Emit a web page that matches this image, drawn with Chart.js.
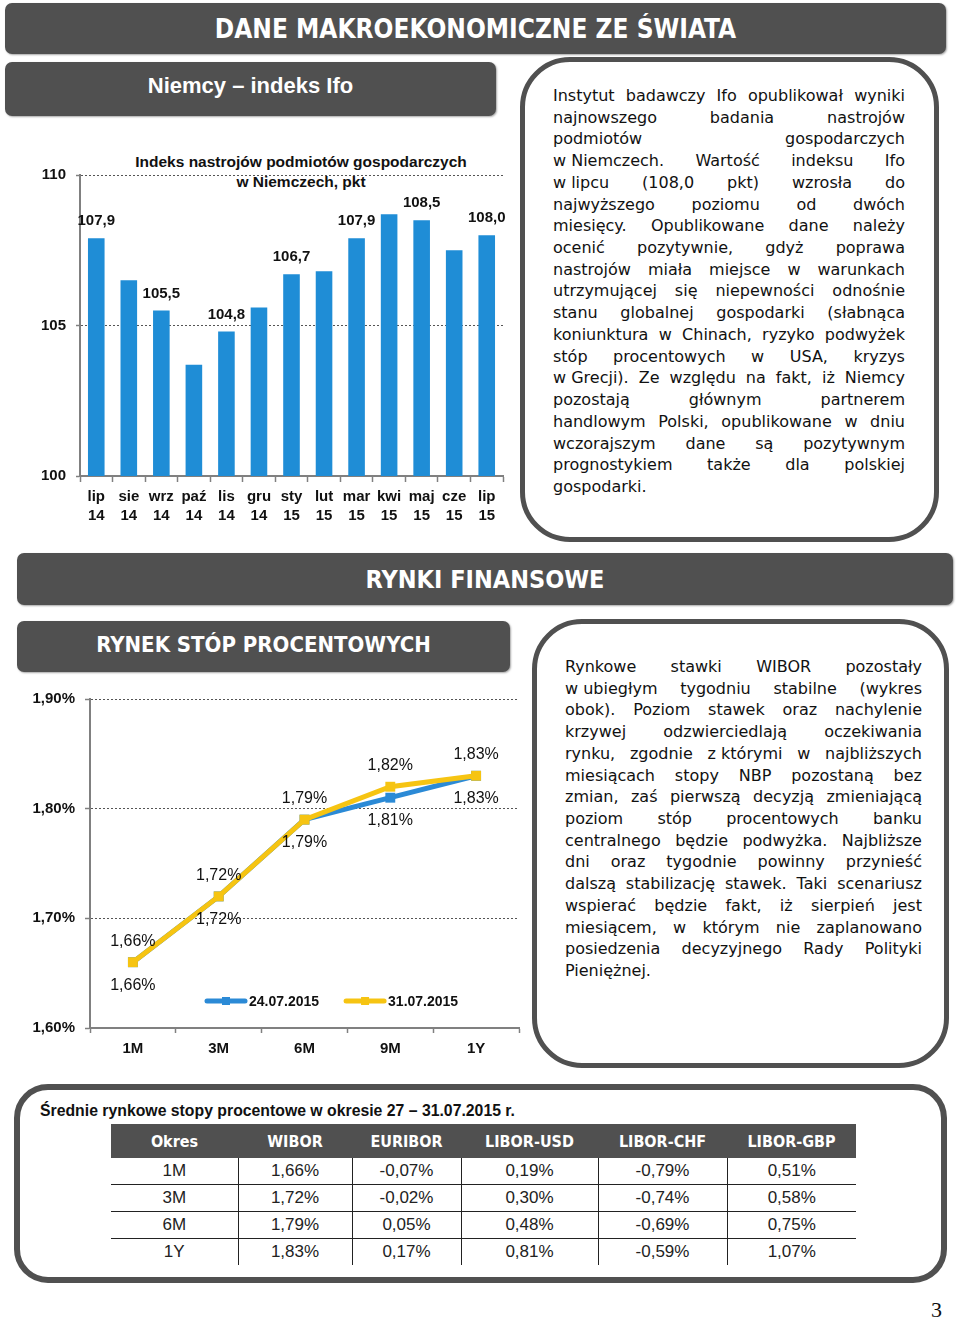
<!DOCTYPE html>
<html>
<head>
<meta charset="utf-8">
<script src="https://cdn.jsdelivr.net/npm/chart.js@4.4.0/dist/chart.umd.min.js"></script>
<style>
  body { margin: 0; background: #fff; width: 960px; height: 1321px; position: relative; overflow: hidden; font-family: "DejaVu Sans", sans-serif; color: #111; }
  .banner { position: absolute; background: #505050; border-radius: 7px; color: #fff; font-weight: bold; box-shadow: 1px 1px 2px rgba(0,0,0,.35); display: flex; align-items: center; justify-content: center; font-family: "DejaVu Sans Condensed", "DejaVu Sans", sans-serif; }
  .box { position: absolute; border: 5px solid #505050; box-sizing: border-box; }
  .txt { position: absolute; font-size: 16px; }
  .ln { display: flex; justify-content: space-between; height: 21.72px; line-height: 21.72px; white-space: pre; }
  .ln.last { display: block; }
  .chartTitle { position: absolute; font: bold 15.5px "Liberation Sans", sans-serif; text-align: center; line-height: 20px; }
  table { position: absolute; border-collapse: collapse; table-layout: fixed; }
  th { background: #505050; color: #fff; font: bold 16px "DejaVu Sans Condensed", sans-serif; height: 34px; padding: 0; }
  td { font: 17px "Liberation Sans Narrow", sans-serif; color: #222; text-align: center; height: 26px; padding: 0; border-left: 1.5px solid #222; border-bottom: 1.5px solid #222; }
  td:first-child { border-left: none; }
  tr:last-child td { border-bottom: none; }
</style>
</head>
<body>

<div class="banner" style="left:5px; top:3px; width:941px; height:51px; font-size:26px;">DANE MAKROEKONOMICZNE ZE ŚWIATA</div>
<div class="banner" style="left:5px; top:62px; width:491px; height:54px; font-size:22px; font-family:'Liberation Sans', sans-serif; padding-bottom:6px; box-sizing:border-box;">Niemcy – indeks Ifo</div>

<div class="box" style="left:520px; top:57px; width:419px; height:485px; border-radius:50px;"></div>
<div class="txt" id="txt1" style="left:553px; top:85px; width:352px;"></div>

<div class="chartTitle" style="left:100px; top:152px; width:402px;">Indeks nastrojów podmiotów gospodarczych<br>w Niemczech, pkt</div>
<canvas id="ifoChart" width="500" height="395" style="position:absolute; left:20px; top:140px;"></canvas>

<div class="banner" style="left:17px; top:553px; width:936px; height:52px; font-size:25px;">RYNKI FINANSOWE</div>
<div class="banner" style="left:17px; top:621px; width:493px; height:51px; font-size:22px; padding-bottom:5px; box-sizing:border-box;">RYNEK STÓP PROCENTOWYCH</div>

<div class="box" style="left:532px; top:619px; width:417px; height:449px; border-radius:50px;"></div>
<div class="txt" id="txt2" style="left:565px; top:656px; width:357px;"></div>

<canvas id="wiborChart" width="510" height="385" style="position:absolute; left:20px; top:680px;"></canvas>

<div class="box" style="left:14px; top:1084px; width:933px; height:199px; border-radius:34px; border-width:6px;"></div>
<div style="position:absolute; left:40px; top:1102px; font: bold 15.8px 'Liberation Sans', sans-serif;" id="tabTitle">Średnie rynkowe stopy procentowe w okresie 27 – 31.07.2015 r.</div>
<table id="rates" style="left:111px; top:1124px; width:745px;"></table>

<div style="position:absolute; left:931px; top:1297px; font: 22px 'Liberation Serif', serif;">3</div>

<script>
// --- dane: indeks Ifo ---
const ifoMonths = [['lip','14'],['sie','14'],['wrz','14'],['paź','14'],['lis','14'],['gru','14'],
  ['sty','15'],['lut','15'],['mar','15'],['kwi','15'],['maj','15'],['cze','15'],['lip','15']];
const ifoValues = [107.9, 106.5, 105.5, 103.7, 104.8, 105.6, 106.7, 106.8, 107.9, 108.7, 108.5, 107.5, 108.0];
const ifoLabeled = [0, 2, 4, 6, 8, 10, 12];
const ifoTicks = [100, 105, 110];

// --- dane: WIBOR ---
const tenors = ['1M', '3M', '6M', '9M', '1Y'];
const wibor2407 = [1.66, 1.72, 1.79, 1.81, 1.83];
const wibor3107 = [1.66, 1.72, 1.79, 1.82, 1.83];
const wiborTicks = [1.60, 1.70, 1.80, 1.90];

// --- dane: tabela ---
const tableHead = ['Okres', 'WIBOR', 'EURIBOR', 'LIBOR-USD', 'LIBOR-CHF', 'LIBOR-GBP'];
const tablePeriods = ['1M', '3M', '6M', '1Y'];
const tabWibor = ['1,66%', '1,72%', '1,79%', '1,83%'];
const tabEuribor = ['-0,07%', '-0,02%', '0,05%', '0,17%'];
const tabLiborUsd = ['0,19%', '0,30%', '0,48%', '0,81%'];
const tabLiborChf = ['-0,79%', '-0,74%', '-0,69%', '-0,59%'];
const tabLiborGbp = ['0,51%', '0,58%', '0,75%', '1,07%'];

// --- teksty ---
const text1 = [
  'Instytut badawczy Ifo opublikował wyniki',
  'najnowszego badania nastrojów',
  'podmiotów gospodarczych',
  'w\u00a0Niemczech. Wartość indeksu Ifo',
  'w\u00a0lipcu (108,0 pkt) wzrosła do',
  'najwyższego poziomu od dwóch',
  'miesięcy. Opublikowane dane należy',
  'ocenić pozytywnie, gdyż poprawa',
  'nastrojów miała miejsce w warunkach',
  'utrzymującej się niepewności odnośnie',
  'stanu globalnej gospodarki (słabnąca',
  'koniunktura w Chinach, ryzyko podwyżek',
  'stóp procentowych w USA, kryzys',
  'w\u00a0Grecji). Ze względu na fakt, iż Niemcy',
  'pozostają głównym partnerem',
  'handlowym Polski, opublikowane w dniu',
  'wczorajszym dane są pozytywnym',
  'prognostykiem także dla polskiej',
  'gospodarki.'
];
const text2 = [
  'Rynkowe stawki WIBOR pozostały',
  'w\u00a0ubiegłym tygodniu stabilne (wykres',
  'obok). Poziom stawek oraz nachylenie',
  'krzywej odzwierciedlają oczekiwania',
  'rynku, zgodnie z\u00a0którymi w najbliższych',
  'miesiącach stopy NBP pozostaną bez',
  'zmian, zaś pierwszą decyzją zmieniającą',
  'poziom stóp procentowych banku',
  'centralnego będzie podwyżka. Najbliższe',
  'dni oraz tygodnie powinny przynieść',
  'dalszą stabilizację stawek. Taki scenariusz',
  'wspierać będzie fakt, iż sierpień jest',
  'miesiącem, w którym nie zaplanowano',
  'posiedzenia decyzyjnego Rady Polityki',
  'Pieniężnej.'
];

function fillText(id, lines) {
  const el = document.getElementById(id);
  lines.forEach((ln, i) => {
    const row = document.createElement('div');
    if (i === lines.length - 1) {
      row.className = 'ln last';
      row.textContent = ln;
    } else {
      row.className = 'ln';
      ln.split(' ').forEach(w => {
        const s = document.createElement('span');
        s.textContent = w;
        row.appendChild(s);
      });
    }
    el.appendChild(row);
  });
}
fillText('txt1', text1);
fillText('txt2', text2);

// tabela
(function () {
  const t = document.getElementById('rates');
  const widths = [127, 114, 109, 137, 129, 129];
  let html = '<colgroup>' + widths.map(w => `<col style="width:${w}px">`).join('') + '</colgroup>';
  html += '<tr>' + tableHead.map(h => `<th>${h}</th>`).join('') + '</tr>';
  tablePeriods.forEach((p, i) => {
    const row = [p, tabWibor[i], tabEuribor[i], tabLiborUsd[i], tabLiborChf[i], tabLiborGbp[i]];
    html += '<tr>' + row.map(c => `<td>${c}</td>`).join('') + '</tr>';
  });
  t.innerHTML = html;
})();

const fmt = (v, d) => v.toFixed(d).replace('.', ',');
const AXIS = '#808080';

// etykiety wartości nad/pod punktami
function valueLabels(sets, font) {
  return {
    id: 'valueLabels',
    afterDatasetsDraw(chart) {
      const ctx = chart.ctx;
      ctx.save();
      ctx.font = font;
      ctx.fillStyle = '#111';
      ctx.textAlign = 'center';
      ctx.textBaseline = 'middle';
      sets.forEach((s, di) => {
        const meta = chart.getDatasetMeta(di);
        const data = chart.data.datasets[di].data;
        meta.data.forEach((el, i) => {
          if (s.show && !s.show.includes(i)) return;
          ctx.fillText(s.format(data[i]), el.x, el.y + s.dy);
        });
      });
      ctx.restore();
    }
  };
}

// --- wykres Ifo ---
new Chart(document.getElementById('ifoChart'), {
  type: 'bar',
  data: {
    labels: ifoMonths,
    datasets: [{
      data: ifoValues,
      backgroundColor: '#1f8dd6',
      barPercentage: 0.51,
      categoryPercentage: 1
    }]
  },
  options: {
    responsive: false,
    animation: false,
    layout: { padding: { top: 35, right: 17, left: 0, bottom: 0 } },
    plugins: { legend: { display: false }, tooltip: { enabled: false } },
    scales: {
      x: {
        grid: { drawOnChartArea: false, offset: true, tickLength: 6, tickColor: AXIS, tickWidth: 1.5 },
        border: { color: AXIS, width: 2 },
        ticks: { color: '#111', font: { family: 'Liberation Sans', size: 15, weight: 'bold', lineHeight: 1.27 }, padding: 5, maxRotation: 0, autoSkip: false },
        afterFit: s => { s.height = 59; }
      },
      y: {
        min: 100, max: 110,
        afterBuildTicks: s => { s.ticks = ifoTicks.map(v => ({ value: v })); },
        grid: {
          color: c => (c.tick && c.tick.value === 100) ? 'rgba(0,0,0,0)' : '#555',
          lineWidth: 1, tickLength: 4, tickColor: AXIS, tickWidth: 1.5
        },
        border: { color: AXIS, width: 2, dash: [2, 2] },
        ticks: { color: '#111', font: { family: 'Liberation Sans', size: 15, weight: 'bold' }, padding: 10 },
        afterFit: s => { s.width = 60; }
      }
    }
  },
  plugins: [valueLabels([{ show: ifoLabeled, dy: -17, format: v => fmt(v, 1) }], 'bold 15px "Liberation Sans"')]
});

// legenda wewnątrz obszaru wykresu
const innerLegend = {
  id: 'innerLegend',
  afterDraw(chart) {
    const ctx = chart.ctx;
    const area = chart.chartArea;
    let x = area.left + 115;
    const y = area.bottom - 27;
    ctx.save();
    ctx.font = 'bold 14px "Liberation Sans"';
    ctx.textBaseline = 'middle';
    chart.data.datasets.forEach(ds => {
      ctx.strokeStyle = ds.borderColor;
      ctx.lineWidth = 5;
      ctx.lineCap = 'round';
      ctx.beginPath();
      ctx.moveTo(x + 2, y);
      ctx.lineTo(x + 40, y);
      ctx.stroke();
      ctx.fillStyle = ds.borderColor;
      ctx.fillRect(x + 17, y - 4, 8, 8);
      ctx.fillStyle = '#111';
      ctx.fillText(ds.label, x + 44, y + 1);
      x += 44 + ctx.measureText(ds.label).width + 25;
    });
    ctx.restore();
  }
};

// --- wykres WIBOR ---
new Chart(document.getElementById('wiborChart'), {
  type: 'line',
  data: {
    labels: tenors,
    datasets: [
      { label: '24.07.2015', data: wibor2407, borderColor: '#2b8ad6', backgroundColor: '#2b8ad6', order: 1,
        borderWidth: 5, pointStyle: 'rect', pointRadius: 7, pointBorderWidth: 0, tension: 0 },
      { label: '31.07.2015', data: wibor3107, borderColor: '#f6c412', backgroundColor: '#f6c412', order: 0,
        borderWidth: 5, pointStyle: 'rect', pointRadius: 7, pointBorderWidth: 0, tension: 0 }
    ]
  },
  options: {
    responsive: false,
    animation: false,
    layout: { padding: { top: 19, right: 11, left: 0, bottom: 0 } },
    plugins: { legend: { display: false }, tooltip: { enabled: false } },
    scales: {
      x: {
        offset: true,
        grid: { drawOnChartArea: false, offset: true, tickLength: 5, tickColor: AXIS, tickWidth: 1.5 },
        border: { color: AXIS, width: 2 },
        ticks: { color: '#111', font: { family: 'Liberation Sans', size: 15, weight: 'bold' }, padding: 7 },
        afterFit: s => { s.height = 37; }
      },
      y: {
        min: 1.6, max: 1.9,
        afterBuildTicks: s => { s.ticks = wiborTicks.map(v => ({ value: v })); },
        grid: {
          color: c => (c.tick && Math.abs(c.tick.value - 1.6) < 1e-6) ? 'rgba(0,0,0,0)' : '#555',
          lineWidth: 1, tickLength: 5, tickColor: AXIS, tickWidth: 1.5
        },
        border: { color: AXIS, width: 2, dash: [2, 2] },
        ticks: { color: '#111', font: { family: 'Liberation Sans', size: 15, weight: 'bold' }, padding: 10,
          callback: v => fmt(v, 2) + '%' },
        afterFit: s => { s.width = 70; }
      }
    }
  },
  plugins: [
    valueLabels([
      { dy: 23, format: v => fmt(v, 2) + '%' },
      { dy: -21, format: v => fmt(v, 2) + '%' }
    ], '16px "Liberation Sans"'),
    innerLegend
  ]
});
</script>
</body>
</html>
